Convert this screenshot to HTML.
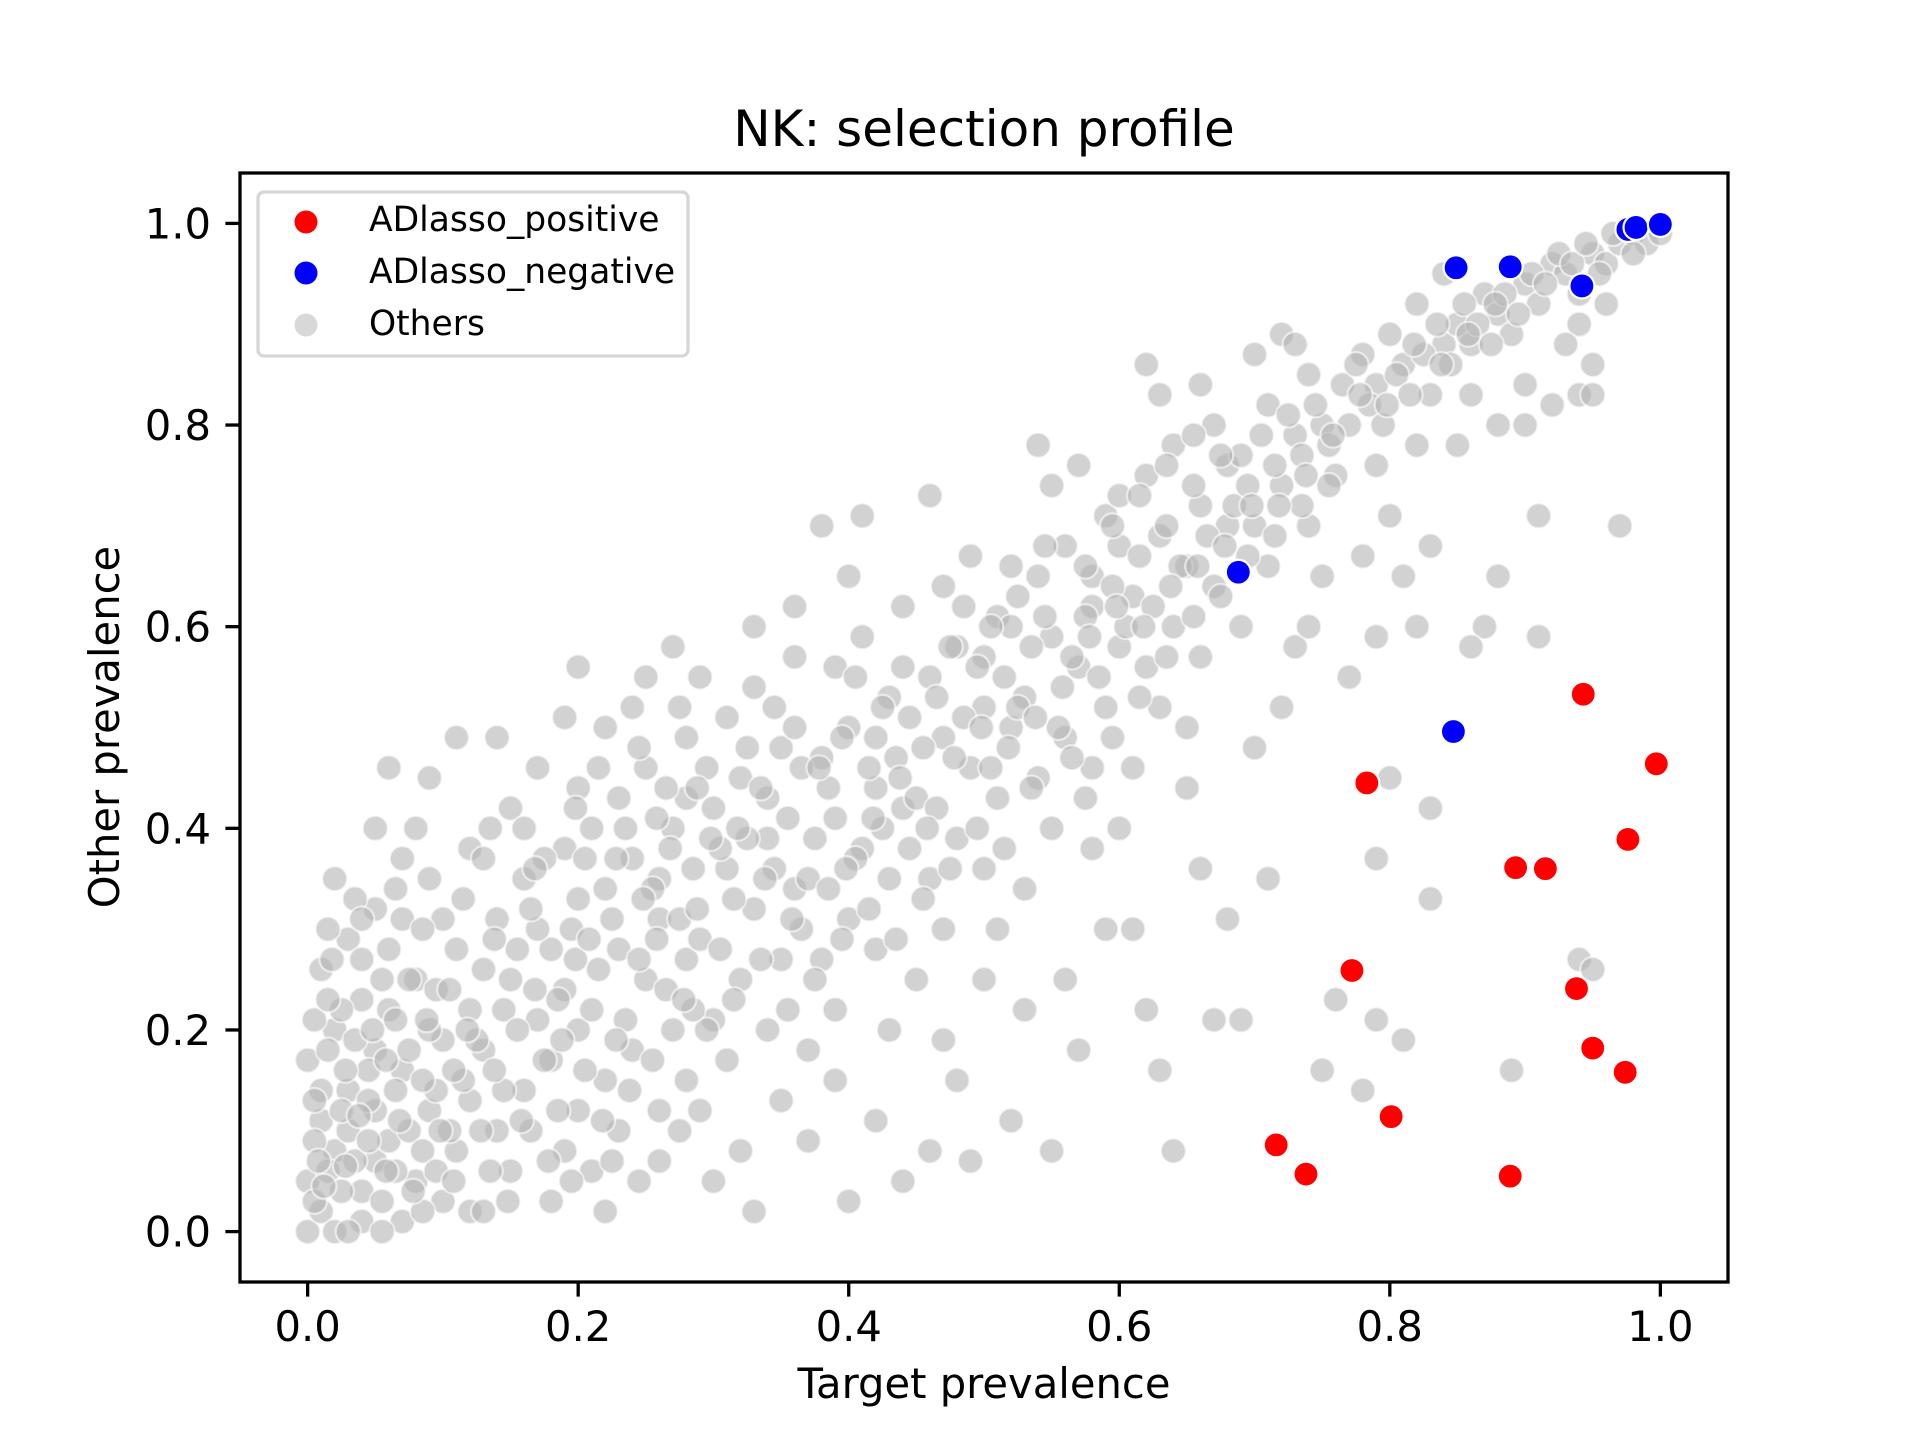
<!DOCTYPE html>
<html><head><meta charset="utf-8"><style>
html,body{margin:0;padding:0;background:#fff;}
svg{display:block;font-family:"DejaVu Sans","Liberation Sans",sans-serif;}
</style></head><body>
<svg id="chart" width="1920" height="1440" viewBox="0 0 1920 1440" xmlns="http://www.w3.org/2000/svg">
<rect width="1920" height="1440" fill="#fff"/>
<text x="984" y="146" font-size="50" text-anchor="middle">NK: selection profile</text>
<g id="others"></g>
<g id="neg"></g>
<g id="pos"></g>
<rect x="240" y="173" width="1488" height="1109" fill="none" stroke="#000" stroke-width="3.3"/>
<g id="xticks"></g>
<g id="yticks"></g>
<text x="984" y="1398" font-size="41.7" text-anchor="middle">Target prevalence</text>
<text x="0" y="0" font-size="41.7" text-anchor="middle" transform="translate(119,727) rotate(-90)">Other prevalence</text>
<g>
<rect x="258" y="192" width="430" height="164" rx="6" fill="#fff" fill-opacity="0.8" stroke="#d6d6d6" stroke-width="3.3"/>
<circle cx="306" cy="222" r="11.5" fill="#ff0000"/>
<text x="369" y="231" font-size="34.5">ADlasso_positive</text>
<circle cx="306" cy="273" r="11.5" fill="#0000ff"/>
<text x="369" y="283" font-size="34.5">ADlasso_negative</text>
<circle cx="306" cy="325" r="11.5" fill="#c8c8c8" fill-opacity="0.7"/>
<text x="369" y="335" font-size="34.5">Others</text>
</g>
</svg>
<script>
const xTicks=[0,0.2,0.4,0.6,0.8,1.0];
const yTicks=[0,0.2,0.4,0.6,0.8,1.0];
const tickLabels=["0.0","0.2","0.4","0.6","0.8","1.0"];
const posX=[0.783,0.943,0.997,0.976,0.893,0.915,0.772,0.938,0.950,0.974,0.801,0.716,0.738,0.889];
const posY=[0.445,0.533,0.464,0.389,0.361,0.360,0.259,0.241,0.182,0.158,0.114,0.086,0.057,0.055];
const negX=[0.688,0.847,0.849,0.889,0.942,0.976,0.982,1.0];
const negY=[0.654,0.496,0.956,0.957,0.938,0.994,0.996,0.999];
const othersXY=[
0,0,.01,.02,0,.05,.02,.08,.01,.11,.03,.14,0,.17,.02,.2,.04,.23,.01,.26,.03,.29,.05,.32,.04,.04,.03,.1,.05,.18,.04,.27,.02,.35,.05,.4,.06,.46,.01,.14,.02,0,.04,.01,.05,.07,.05,.12,
.07,.01,.08,.05,.06,.09,.09,.12,.07,.16,.1,.19,.06,.22,.08,.25,.11,.28,.07,.31,.09,.35,.12,.38,.1,.03,.11,.08,.12,.13,.12,.22,.1,.31,.08,.4,.09,.45,.11,.49,.06,.28,.12,.02,.09,.2,.07,.37,
.13,.02,.15,.06,.14,.1,.16,.14,.13,.18,.17,.21,.15,.25,.18,.28,.14,.31,.16,.35,.19,.38,.15,.42,.17,.46,.2,.44,.18,.03,.19,.08,.2,.12,.18,.17,.2,.2,.19,.24,.17,.3,.2,.33,.13,.37,.14,.49,.19,.51,.2,.56,.16,.4,.13,.26,
.21,.06,.23,.1,.22,.15,.24,.18,.21,.22,.25,.25,.23,.28,.26,.31,.22,.34,.24,.37,.27,.4,.23,.43,.25,.46,.28,.49,.26,.12,.27,.2,.28,.27,.26,.35,.28,.43,.24,.52,.27,.58,.22,.02,.26,.07,.28,.15,.21,.4,.25,.55,.22,.5,
.29,.12,.31,.17,.3,.21,.32,.25,.29,.29,.33,.32,.31,.36,.34,.39,.3,.42,.32,.45,.35,.48,.31,.51,.33,.54,.36,.57,.34,.2,.35,.27,.36,.34,.34,.43,.36,.5,.33,.6,.3,.05,.33,.02,.35,.13,.32,.08,.29,.55,.36,.62,
.37,.18,.39,.22,.38,.27,.4,.31,.37,.35,.41,.38,.39,.41,.42,.44,.38,.47,.4,.5,.43,.53,.39,.56,.41,.59,.44,.62,.42,.28,.43,.35,.44,.42,.42,.49,.44,.56,.4,.65,.38,.7,.37,.09,.4,.03,.42,.11,.39,.15,.43,.2,.41,.71,.44,.05,
.45,.25,.47,.3,.46,.35,.48,.39,.45,.43,.49,.46,.47,.49,.5,.52,.46,.55,.48,.58,.51,.61,.47,.64,.49,.67,.52,.66,.5,.36,.51,.43,.52,.5,.5,.57,.52,.6,.46,.73,.48,.15,.46,.08,.5,.25,.52,.11,.47,.19,.51,.3,.49,.07,
.53,.34,.55,.4,.54,.45,.56,.49,.53,.53,.57,.56,.55,.59,.58,.62,.54,.65,.56,.68,.59,.71,.55,.74,.57,.76,.6,.73,.58,.46,.59,.52,.6,.58,.58,.65,.6,.68,.54,.78,.56,.25,.55,.08,.57,.18,.59,.3,.6,.4,.53,.22,.58,.38,
.61,.46,.63,.52,.62,.56,.64,.6,.61,.63,.65,.66,.63,.69,.66,.72,.62,.75,.64,.78,.67,.8,.63,.83,.66,.84,.68,.76,.66,.57,.67,.64,.68,.7,.65,.5,.62,.86,.61,.3,.63,.16,.64,.08,.66,.36,.67,.21,.62,.22,.65,.44,.68,.31,
.69,.6,.71,.66,.7,.7,.72,.74,.69,.77,.73,.79,.71,.82,.74,.85,.7,.87,.72,.89,.75,.8,.76,.75,.74,.7,.75,.65,.73,.58,.72,.52,.7,.48,.71,.35,.73,.88,.75,.16,.76,.23,.69,.21,.74,.6,
.77,.8,.79,.84,.78,.87,.8,.89,.82,.92,.81,.86,.83,.83,.84,.88,.79,.76,.82,.78,.8,.71,.78,.67,.81,.65,.79,.59,.77,.55,.82,.6,.8,.45,.83,.42,.79,.37,.78,.14,.79,.21,.81,.19,.83,.33,.84,.95,.83,.68,
.85,.9,.87,.93,.86,.88,.88,.91,.9,.94,.89,.89,.91,.92,.92,.96,.86,.83,.88,.8,.9,.84,.85,.78,.87,.6,.86,.58,.88,.65,.91,.59,.89,.16,.92,.82,.9,.8,.91,.71,
.93,.95,.95,.97,.94,.93,.96,.96,.97,.98,.98,.99,.99,.98,1,.99,.94,.9,.96,.92,.95,.86,.94,.83,.98,.97,.97,.7,.95,.83,.94,.27,.95,.26,.93,.88,
.005,.03,.015,.06,.025,.04,.035,.07,.045,.09,.055,.03,.065,.06,.075,.1,.085,.08,.095,.14,.015,.18,.025,.22,.035,.19,.045,.16,.055,.25,.065,.21,.075,.18,.085,.15,.095,.24,.015,.3,.035,.33,.065,.34,.085,.3,.005,.09,.005,.13,.005,.21,.025,.12,.045,.13,.065,.14,.075,.25,.095,.06,.085,.02,.055,0,.03,0,.015,.23,.04,.31,
.105,.1,.115,.15,.125,.19,.135,.06,.145,.22,.155,.28,.165,.1,.175,.17,.185,.23,.195,.3,.105,.24,.115,.33,.135,.4,.145,.14,.155,.2,.165,.32,.175,.37,.185,.12,.195,.05,.205,.16,.215,.26,.225,.31,.235,.21,.245,.27,.255,.34,.265,.24,.275,.31,.285,.36,.295,.2,.205,.37,.215,.46,.235,.4,.245,.48,.255,.17,.265,.44,.275,.52,.285,.22,.295,.46,.225,.07,.245,.05,.275,.1,
.305,.28,.315,.33,.325,.39,.335,.44,.345,.36,.355,.41,.365,.46,.375,.39,.385,.44,.395,.49,.405,.37,.415,.46,.425,.52,.435,.47,.445,.51,.455,.48,.465,.53,.475,.58,.485,.51,.495,.56,.505,.6,.515,.55,.525,.63,.535,.58,.545,.61,.305,.38,.325,.48,.345,.52,.365,.3,.385,.34,.405,.55,.425,.4,.445,.38,.465,.42,.485,.62,.505,.46,.525,.52,.545,.68,.315,.23,.335,.27,.355,.22,.375,.25,.395,.29,.415,.32,.435,.29,.455,.33,.475,.36,.495,.4,.515,.38,.535,.44,
.555,.5,.565,.57,.575,.61,.585,.55,.595,.64,.605,.6,.615,.67,.625,.62,.635,.7,.645,.66,.655,.74,.665,.69,.675,.77,.685,.72,.695,.74,.705,.79,.715,.76,.725,.81,.735,.77,.745,.82,.755,.78,.765,.84,.775,.86,.785,.82,.795,.8,.805,.85,.815,.83,.825,.87,.835,.9,.845,.86,.855,.92,.865,.9,.875,.88,.885,.93,.895,.91,.905,.95,.915,.94,.925,.97,.935,.96,.945,.98,.955,.95,.965,.99,
.565,.47,.575,.43,.595,.49,.615,.53,.635,.57,.655,.61,.675,.63,.695,.67,.715,.69,.735,.72,.755,.74,.575,.66,.595,.7,.615,.73,.635,.76,.655,.79,
.012,.045,.028,.065,.038,.115,.048,.2,.058,.17,.068,.11,.078,.04,.088,.21,.098,.1,.108,.05,.118,.2,.128,.1,.138,.16,.148,.03,.158,.11,.168,.24,.178,.07,.188,.19,.198,.27,.208,.29,.218,.11,.228,.19,.238,.14,.248,.33,.258,.29,.268,.38,.278,.23,.288,.32,.298,.39,.018,.27,.008,.07,.058,.06,.028,.16,.108,.16,.138,.29,.168,.36,.198,.42,.228,.37,.258,.41,.288,.44,.318,.4,.338,.35,.358,.31,.378,.46,.398,.36,.418,.41,.438,.45,.458,.4,.478,.47,.498,.5,.518,.48,.538,.51,.558,.54,.578,.59,.598,.62,.618,.6,.638,.64,.658,.66,.678,.68,.698,.72,.718,.72,.738,.75,.758,.79,.778,.83,.798,.82,.818,.88,.838,.86,.858,.89,.878,.92
];
const NS="http://www.w3.org/2000/svg";
function sx(v){return 240+(v+0.05)/1.1*1488;}
function sy(v){return 1282-(v+0.05)/1.1*1109;}
function dot(g,x,y,fill,op,name){
  const c=document.createElementNS(NS,"circle");
  c.setAttribute("cx",sx(x));c.setAttribute("cy",sy(y));c.setAttribute("r",12.5);
  c.setAttribute("fill",fill);c.setAttribute("fill-opacity",op);
  c.setAttribute("stroke","#fff");c.setAttribute("stroke-width",2.2);c.setAttribute("stroke-opacity",op<1?0.6:1);
  
  
  g.appendChild(c);
}
const go=document.getElementById("others");
for(let i=0;i<othersXY.length;i+=2){dot(go,othersXY[i],othersXY[i+1],"#b4b4b4",0.6,"other-point");}
const gn=document.getElementById("neg");
negX.forEach((x,i)=>dot(gn,x,negY[i],"#0000ff",1,"negative-point"));
const gp=document.getElementById("pos");
posX.forEach((x,i)=>dot(gp,x,posY[i],"#ff0000",1,"positive-point"));
const gx=document.getElementById("xticks");
xTicks.forEach((v,i)=>{
  const l=document.createElementNS(NS,"line");
  l.setAttribute("x1",sx(v));l.setAttribute("x2",sx(v));l.setAttribute("y1",1282);l.setAttribute("y2",1296.6);
  l.setAttribute("stroke","#000");l.setAttribute("stroke-width",3.3);
  
  
  gx.appendChild(l);
  const t=document.createElementNS(NS,"text");
  t.setAttribute("x",sx(v));t.setAttribute("y",1341);t.setAttribute("font-size",41.7);t.setAttribute("text-anchor","middle");
  t.textContent=tickLabels[i];
  
  
  gx.appendChild(t);
});
const gy=document.getElementById("yticks");
yTicks.forEach((v,i)=>{
  const l=document.createElementNS(NS,"line");
  l.setAttribute("x1",225.4);l.setAttribute("x2",240);l.setAttribute("y1",sy(v));l.setAttribute("y2",sy(v));
  l.setAttribute("stroke","#000");l.setAttribute("stroke-width",3.3);
  
  
  gy.appendChild(l);
  const t=document.createElementNS(NS,"text");
  t.setAttribute("x",211);t.setAttribute("y",sy(v)+15);t.setAttribute("font-size",41.7);t.setAttribute("text-anchor","end");
  t.textContent=tickLabels[i];
  
  
  gy.appendChild(t);
});
</script>
</body></html>
